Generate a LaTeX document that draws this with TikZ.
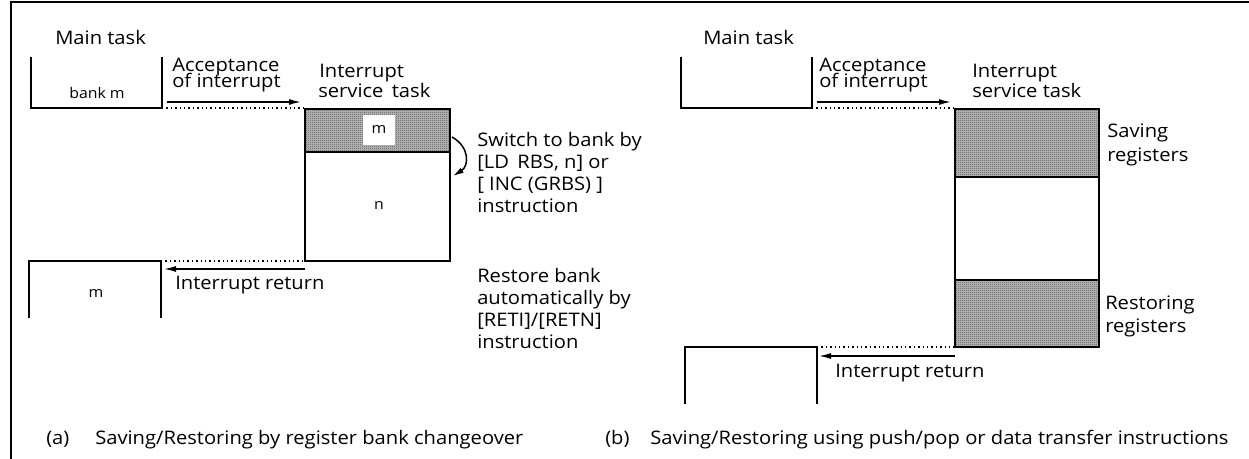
\documentclass[tikz,border=0pt]{standalone}
\usepackage{fontspec}
\setmainfont{Open Sans}[FakeStretch=1.08]
\usetikzlibrary{arrows.meta,patterns.meta}
\tikzdeclarepattern{name=finedots,type=uncolored,bounding box={(0pt,0pt) and (1.5pt,1.5pt)},tile size={(1.5pt,1.5pt)},code={\fill (0pt,0pt) rectangle (0.75pt,0.75pt); \fill (0.75pt,0.75pt) rectangle (1.5pt,1.5pt);}}
\begin{document}
\begin{tikzpicture}[x=0.75pt,y=-0.75pt,
  txt/.style={font=\fontsize{14}{16}\selectfont,inner sep=0pt,anchor=base west},
  smalltxt/.style={font=\fontsize{11}{12}\selectfont,inner sep=0pt,anchor=base},
  boxline/.style={line width=1.3pt},
  dotline/.style={line width=1.2pt,dash pattern=on 1.1pt off 2.2pt},
  arr/.style={line width=1.1pt,-{Latex[length=9pt,width=4.5pt]}},
  shade/.style={fill=black!25,postaction={pattern=finedots,pattern color=black!80}},
  frame/.style={line width=1.5pt}]
\useasboundingbox (0,0) rectangle (1249,459);
% frame
\draw[frame] (1249,2) -- (11,2) -- (11,459);

% ===== (a) =====
\node[txt] (amain) at (55,45) {Main task};
\draw[boxline] (31,57) -- (31,108) -- (162,108) -- (162,57);
\node[smalltxt] (abankm) at (97,99) {bank m};
\node[txt] (aacc1) at (172,72) {Acceptance};
\node[txt] (aacc2) at (172,88) {of interrupt};
\coordinate (aaccS) at (167,102);
\coordinate (aaccE) at (301,102);
\draw[arr] (aaccS) -- (aaccE);
\coordinate (adotS) at (162,108);
\coordinate (adotE) at (305,108);
\draw[dotline] (adotS) -- (adotE);
\node[txt] (aisr1) at (319,78) {Interrupt};
\node[txt] (aisr2) at (318,98) {service\, task};
% ISR box
\fill[shade] (305,109) rectangle (450,152);
\node[fill=white,minimum width=24pt,minimum height=22pt,inner sep=0pt,font=\fontsize{11}{12}\selectfont] (ambox) at (379,130) {m};
\draw[boxline] (305,109) rectangle (450,261);
\draw[boxline] (305,152) -- (450,152);
\node[smalltxt] (anlab) at (379,210) {n};
% curved switch arrow
\coordinate (acurS) at (452,137);
\coordinate (acurE) at (453,176);
\draw[line width=1.1pt,-{Latex[length=8pt,width=4.5pt]}] (acurS) .. controls (470,147) and (469,166) .. (acurE);
\node[txt] (asw1) at (477,147) {Switch to bank by};
\node[txt] (asw2) at (477,169) {[LD\, RBS, n] or};
\node[txt] (asw3) at (477,191) {[ INC (GRBS) ]};
\node[txt] (asw4) at (477,213) {instruction};
\node[txt] (ares1) at (477,283) {Restore bank};
\node[txt] (ares2) at (477,305) {automatically by};
\node[txt] (ares3) at (477,327) {[RETI]/[RETN]};
\node[txt] (ares4) at (477,349) {instruction};
% return
\coordinate (artS) at (305,261);
\coordinate (artE) at (161,261);
\draw[dotline] (artE) -- (artS);
\coordinate (aretS) at (305,269);
\coordinate (aretE) at (164,269);
\draw[arr] (aretS) -- (aretE);
\node[txt] (aretlab) at (175,290) {Interrupt return};
\draw[boxline] (29,318) -- (29,261) -- (161,261) -- (161,318);
\node[smalltxt] (am2) at (96,298) {m};
\node[txt] (acap1) at (46,444) {(a)};
\node[txt] (acap2) at (95,444) {Saving/Restoring by register bank changeover};

% ===== (b) =====
\node[txt] (bmain) at (703,45) {Main task};
\draw[boxline] (681,57) -- (681,108) -- (812,108) -- (812,57);
\node[txt] (bacc1) at (819,72) {Acceptance};
\node[txt] (bacc2) at (819,88) {of interrupt};
\coordinate (baccS) at (817,102);
\coordinate (baccE) at (951,102);
\draw[arr] (baccS) -- (baccE);
\coordinate (bdotS) at (812,108);
\coordinate (bdotE) at (955,108);
\draw[dotline] (bdotS) -- (bdotE);
\node[txt] (bisr1) at (972,78) {Interrupt};
\node[txt] (bisr2) at (972,98) {service task};
\fill[shade] (955,109) rectangle (1099,177);
\fill[shade] (955,280) rectangle (1099,347);
\draw[boxline] (955,109) rectangle (1099,347);
\draw[boxline] (955,177) -- (1099,177);
\draw[boxline] (955,280) -- (1099,280);
\node[txt] (bsav1) at (1107,138) {Saving};
\node[txt] (bsav2) at (1107,162) {registers};
\node[txt] (bres1) at (1105,310) {Restoring};
\node[txt] (bres2) at (1105,333) {registers};
\coordinate (brtS) at (955,347);
\coordinate (brtE) at (817,347);
\draw[dotline] (brtE) -- (brtS);
\coordinate (bretS) at (955,356);
\coordinate (bretE) at (819,356);
\draw[arr] (bretS) -- (bretE);
\node[txt] (bretlab) at (835,378) {Interrupt return};
\draw[boxline] (685,404) -- (685,347) -- (817,347) -- (817,404);
\node[txt] (bcap1) at (605,444) {(b)};
\node[txt] (bcap2) at (650,444) {Saving/Restoring using push/pop or data transfer instructions};
\end{tikzpicture}
\end{document}
